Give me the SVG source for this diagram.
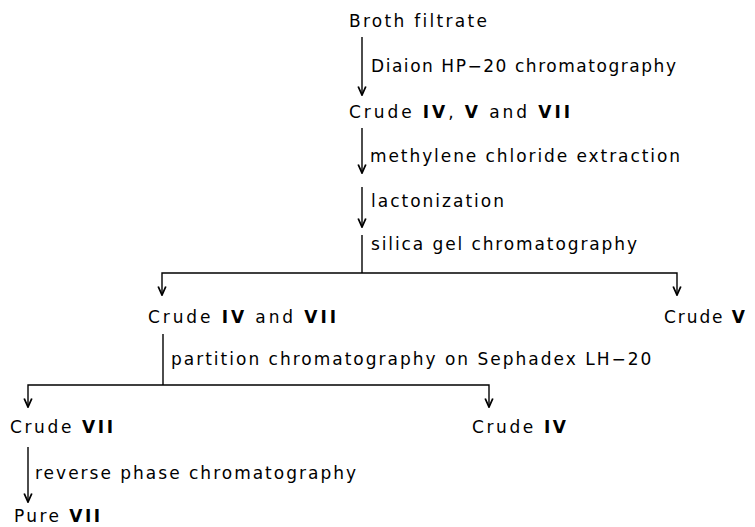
<svg xmlns="http://www.w3.org/2000/svg" width="755" height="527" viewBox="0 0 755 527">
<style>
  text { font-family: "DejaVu Sans", "Verdana", sans-serif; font-size: 17px; letter-spacing: 2px; fill: #000; }
  .b { font-weight: bold; }
  .ln { stroke: #000; stroke-width: 1.4; fill: none; }
</style>
<defs>
  <marker id="ah" markerWidth="12" markerHeight="10" refX="11" refY="5" orient="auto-start-reverse" markerUnits="userSpaceOnUse" viewBox="0 0 12 10">
    <path d="M2.5,1.2 L11,5 L2.5,8.8" fill="none" stroke="#000" stroke-width="1.8" stroke-linejoin="miter"/>
  </marker>
</defs>
<rect width="755" height="527" fill="#fff"/>
<g id="connectors">
  <line class="ln" x1="362" y1="37" x2="362" y2="95" marker-end="url(#ah)"/>
  <line class="ln" x1="362" y1="128" x2="362" y2="173" marker-end="url(#ah)"/>
  <line class="ln" x1="362" y1="187" x2="362" y2="227" marker-end="url(#ah)"/>
  <line class="ln" x1="362" y1="235" x2="362" y2="273"/>
  <polyline class="ln" points="162,295 162,273 677,273 677,295" marker-start="url(#ah)" marker-end="url(#ah)"/>
  <line class="ln" x1="163" y1="334" x2="163" y2="385"/>
  <polyline class="ln" points="28,407 28,385 489,385 489,407" marker-start="url(#ah)" marker-end="url(#ah)"/>
  <line class="ln" x1="28" y1="447" x2="28" y2="502" marker-end="url(#ah)"/>
</g>
<g id="edge-labels">
  <text x="371" y="72" textLength="307">Diaion HP−20 chromatography</text>
  <text x="370" y="162" textLength="312">methylene chloride extraction</text>
  <text x="371" y="207">lactonization</text>
  <text x="371" y="250" textLength="268">silica gel chromatography</text>
  <text x="171" y="365">partition chromatography on Sephadex LH−20</text>
  <text x="35" y="479">reverse phase chromatography</text>
</g>
<g id="broth"><text x="349" y="27" textLength="140">Broth filtrate</text></g>
<g id="crude-iv-v-vii"><text x="349" y="118" textLength="223">Crude <tspan class="b">IV</tspan>, <tspan class="b">V</tspan> and <tspan class="b">VII</tspan></text></g>
<g id="crude-iv-vii"><text x="148" y="323" textLength="190">Crude <tspan class="b">IV</tspan> and <tspan class="b">VII</tspan></text></g>
<g id="crude-v"><text x="664" y="323" textLength="83">Crude <tspan class="b">V</tspan></text></g>
<g id="crude-vii"><text x="10" y="433" textLength="105">Crude <tspan class="b">VII</tspan></text></g>
<g id="crude-iv"><text x="472" y="433" textLength="96">Crude <tspan class="b">IV</tspan></text></g>
<g id="pure-vii"><text x="14" y="522" textLength="88">Pure <tspan class="b">VII</tspan></text></g>
</svg>
